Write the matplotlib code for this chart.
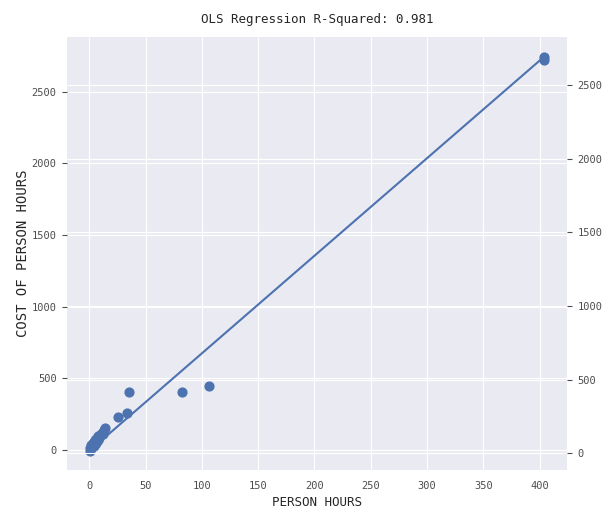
import numpy as np
import matplotlib
matplotlib.use('Agg')
import matplotlib.pyplot as plt
import seaborn as sns

sns.set_style('darkgrid')
plt.rcParams['font.family'] = ['DejaVu Sans Mono']

# person hours vs cost of person hours
hours = [0.5, 1, 1.5, 2, 2, 3, 3, 4, 4, 5, 5, 6, 6, 7, 8, 8, 9, 10, 11, 12,
         13, 14, 26, 34, 35, 82, 106, 404, 404]
cost = [-5, 15, 10, 20, 35, 25, 45, 30, 55, 40, 65, 50, 75, 60, 70, 95, 85, 100,
        120, 110, 140, 155, 230, 255, 400, 405, 448, 2745, 2722]
r_squared = 0.981

x = np.array(hours, dtype=float)
y = np.array(cost, dtype=float)
slope, intercept = np.polyfit(x, y, 1)
fitted = intercept + slope * x

fig = plt.figure(figsize=(6.15, 5.19), dpi=100)
ax = fig.add_axes([0.109, 0.094, 0.813, 0.835])
ax.scatter(x, y, s=40, color='#4C72B0', zorder=3)
ax.set_xlabel('PERSON HOURS', fontsize=9)
ax.set_ylabel('COST OF PERSON HOURS', fontsize=10, labelpad=1)
ax.set_title('OLS Regression R-Squared: %.3f' % r_squared, fontsize=9, pad=10)

ax2 = ax.twinx()
ax2.plot(x, fitted, color='#4C72B0', lw=1.5)
ax2.grid(True)

for a in (ax, ax2):
    a.tick_params(labelsize=7.5, colors='.3', pad=4)
    for s in a.spines.values():
        s.set_visible(False)

fig.savefig('out.png', dpi=100)
